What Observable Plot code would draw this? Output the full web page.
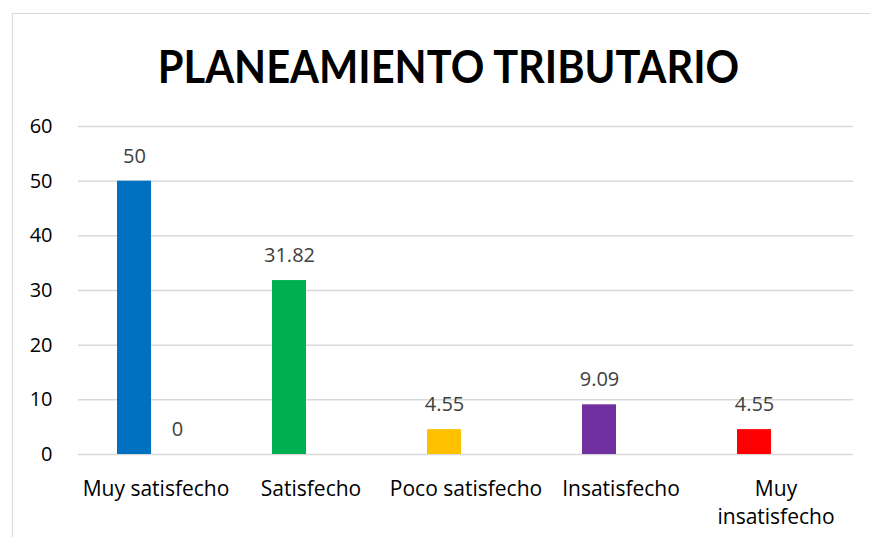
<!DOCTYPE html>
<html>
<head>
<meta charset="utf-8">
<script src="https://cdn.jsdelivr.net/npm/d3@7"></script>
<script src="https://cdn.jsdelivr.net/npm/@observablehq/plot@0.6"></script>
<style>
  html, body { margin: 0; padding: 0; background: #fff; }
  body { width: 870px; height: 537px; position: relative; overflow: hidden; font-family: "Open Sans", sans-serif; }
  #frame { position: absolute; left: 12px; top: 13px; width: 900px; height: 600px; border: 1.5px solid #d9d9d9; box-sizing: border-box; }
  #title { position: absolute; left: 0; width: 897px; top: 38px; text-align: center; font-family: Lato, sans-serif; font-weight: bold; font-size: 45px; color: #000; line-height: 56px; white-space: nowrap; transform: scaleX(0.925); transform-origin: 448.5px 50%; }
  #chart { position: absolute; left: 0; top: 100px; }
</style>
</head>
<body>
<div id="frame"></div>
<div id="title">PLANEAMIENTO TRIBUTARIO</div>
<div id="chart"></div>
<script>
const categories = ["Muy satisfecho", "Satisfecho", "Poco satisfecho", "Insatisfecho", "Muy insatisfecho"];
const seriesA = [50, 31.82, 4.55, 9.09, 4.55];
const seriesB = [0, null, null, null, null];
const colors = ["#0070C0", "#00B050", "#FFC000", "#7030A0", "#FF0000"];
const yTicks = [0, 10, 20, 30, 40, 50, 60];

const data = categories.flatMap((c, i) => [
  {cat: c, series: "A", value: seriesA[i], color: colors[i]},
  {cat: c, series: "B", value: seriesB[i], color: colors[i]}
]).filter(d => d.value != null);

const fontFam = "'Open Sans', sans-serif";

const chart = Plot.plot({
  width: 870,
  height: 437,
  marginLeft: 76,
  marginRight: 16,
  marginTop: 26,
  marginBottom: 83,
  style: {fontFamily: fontFam, background: "transparent", overflow: "visible"},
  fx: {domain: categories, padding: 0, label: null},
  x: {domain: ["A", "B"], paddingInner: 0.2045, paddingOuter: 0.868, axis: null},
  y: {domain: [0, 60], label: null},
  color: {type: "identity"},
  marks: [
    Plot.gridY(yTicks, {stroke: "#d9d9d9", strokeOpacity: 1, strokeWidth: 1.5}),
    Plot.axisY(yTicks, {tickSize: 0, tickPadding: 26, fontSize: 20, fill: "#000", label: null}),
    Plot.axisFx({
      anchor: "bottom", tickSize: 0, tickPadding: 21, fontSize: 21, fill: "#000", label: null,
      lineAnchor: "top", lineHeight: 1.35,
      tickFormat: d => d === "Muy insatisfecho" ? "Muy\ninsatisfecho" : d
    }),
    Plot.barY(data, {fx: "cat", x: "series", y: "value", fill: "color"}),
    Plot.text(data, {fx: "cat", x: "series", y: "value", text: d => String(d.value), dy: -25, fontSize: 20, fill: "#404040"})
  ]
});
document.getElementById("chart").appendChild(chart);
</script>
</body>
</html>
